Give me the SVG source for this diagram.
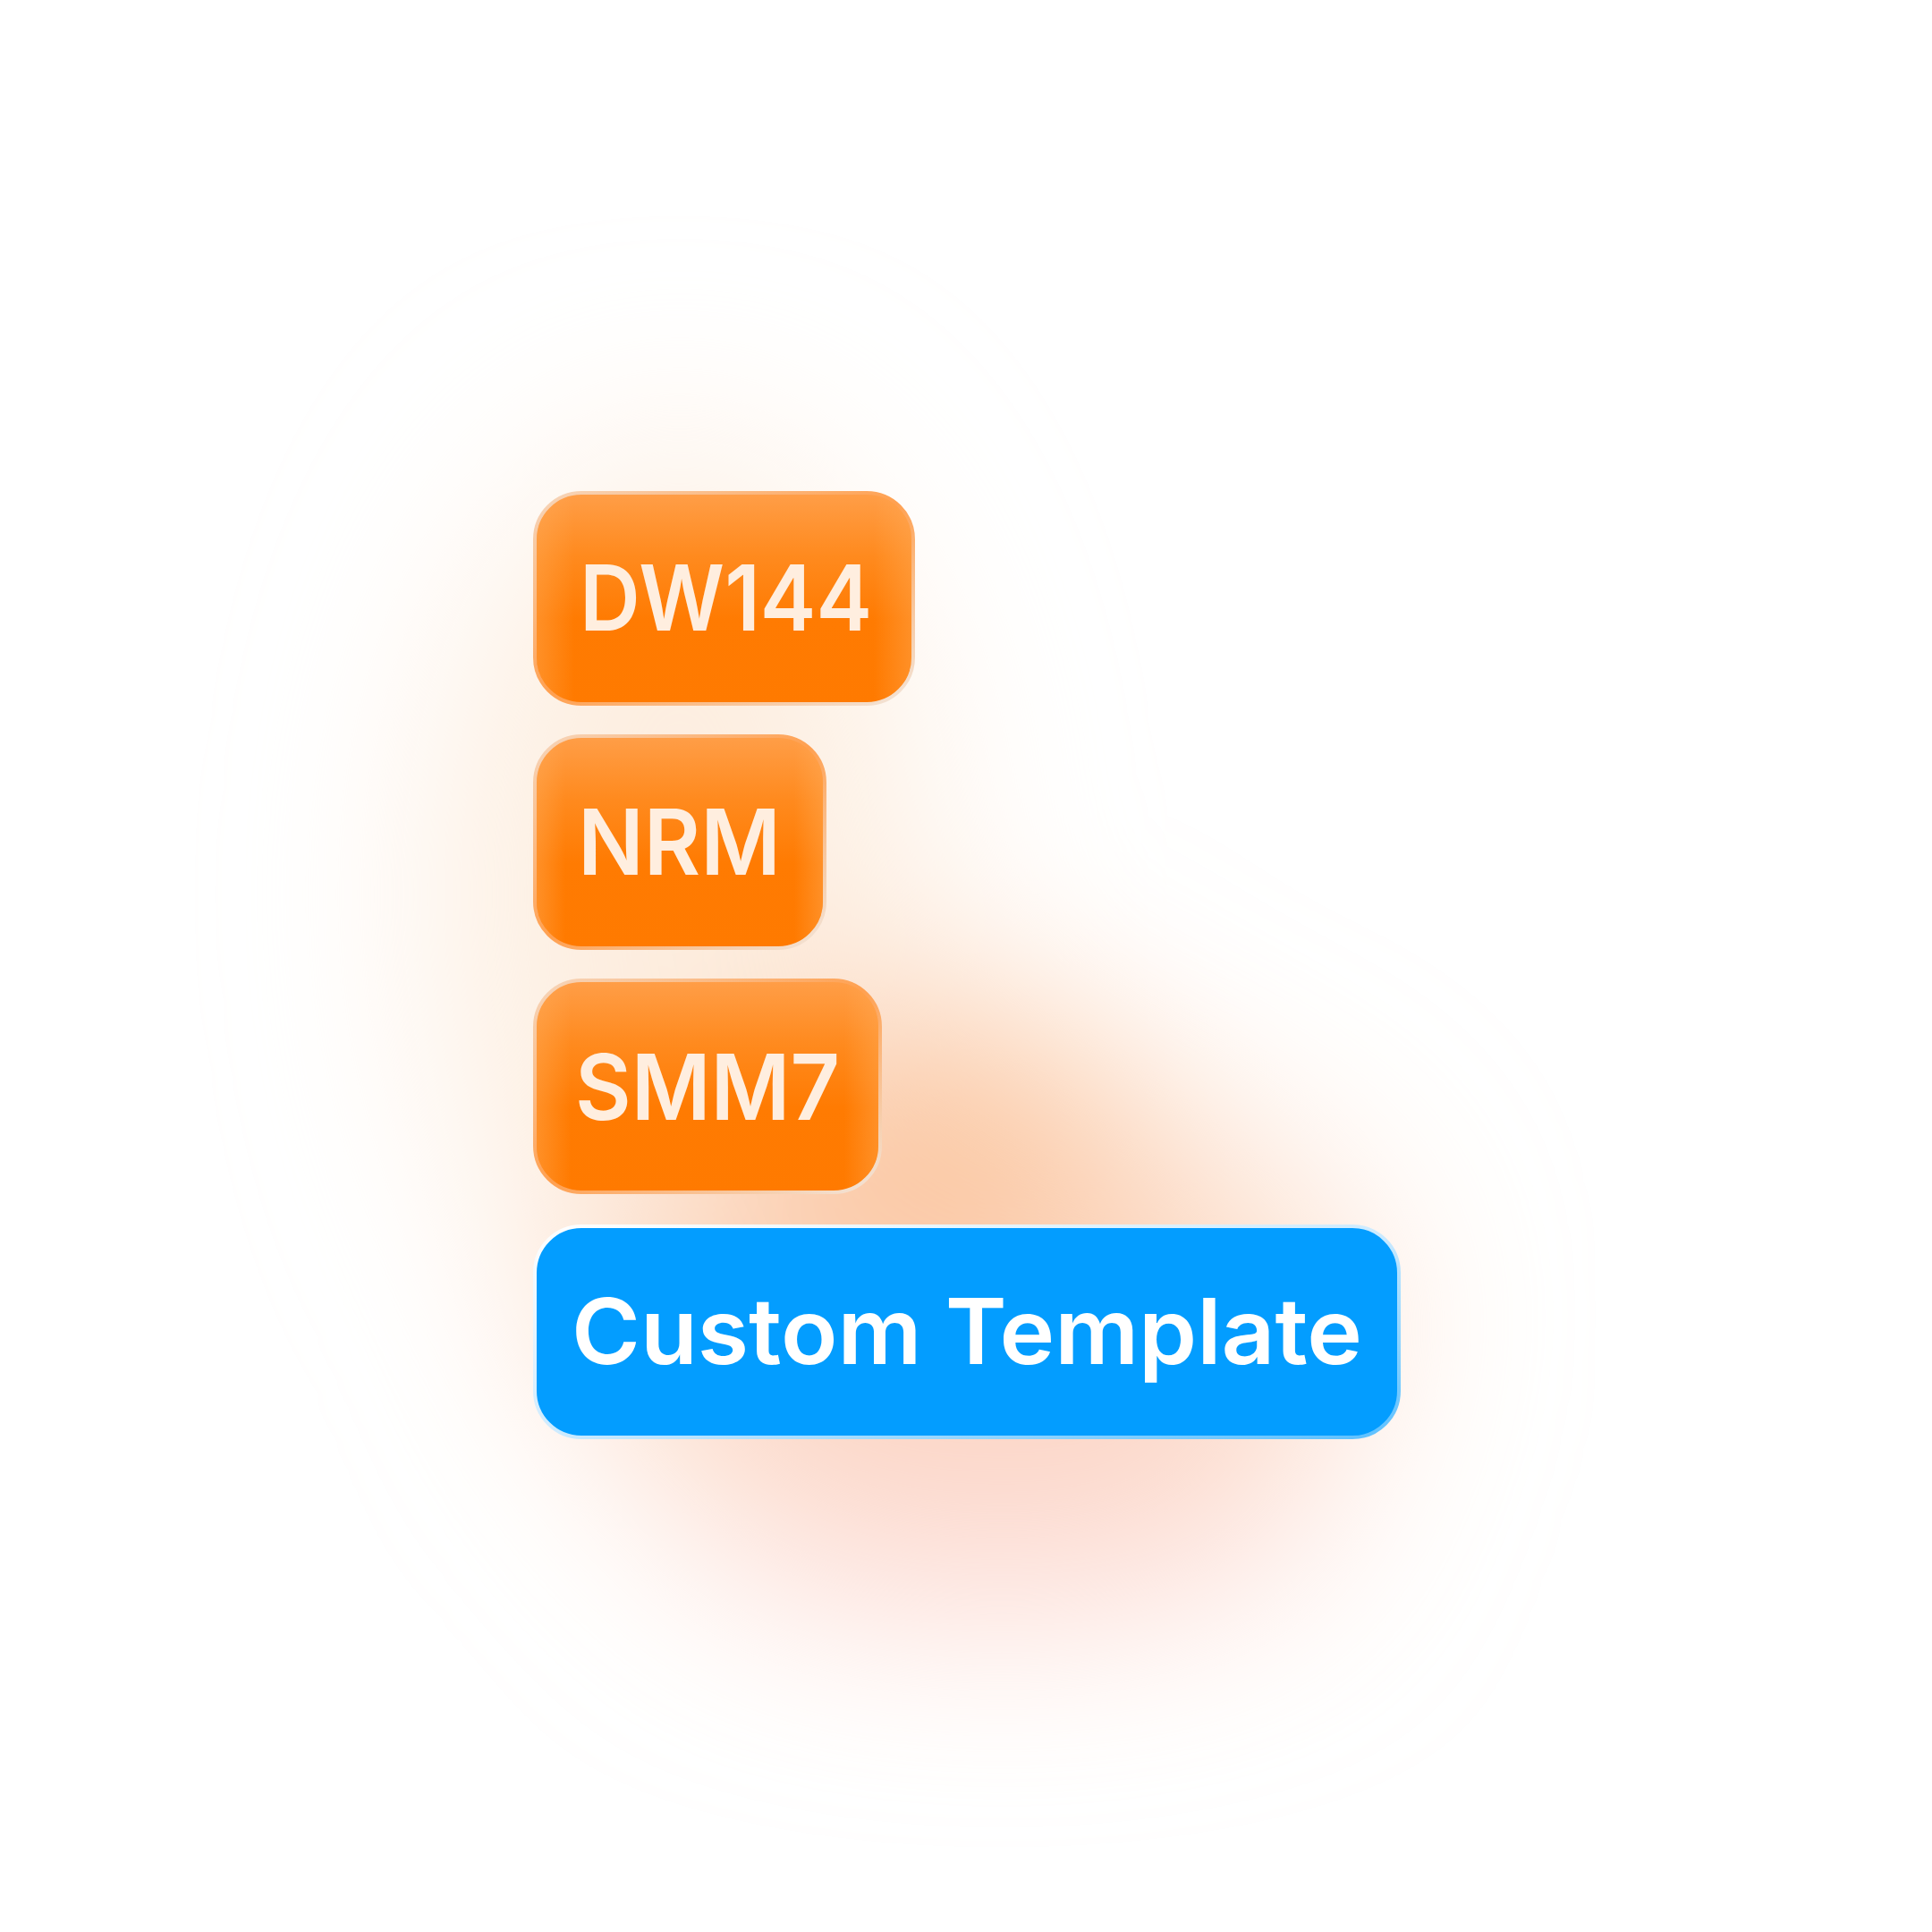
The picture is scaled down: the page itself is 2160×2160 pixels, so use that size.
<svg xmlns="http://www.w3.org/2000/svg" width="2160" height="2160" viewBox="0 0 2160 2160">
  <style>
    .lbl { font-family: Inter, "Liberation Sans", Arial, sans-serif; font-size: 102px; font-weight: 600; }
    .olbl { fill: #FFEEDF; }
    .blbl { fill: #FFFFFF; }
    .obox { fill: url(#orangeFill); stroke: url(#orangeStroke); stroke-width: 4; }
    .bbox { fill: #039DFF; stroke: url(#blueStroke); stroke-width: 4; }
    .edge { fill: url(#edgeGlow); }
  </style>
  <defs>
    <filter id="blur" filterUnits="userSpaceOnUse" x="0" y="0" width="2160" height="2160">
      <feGaussianBlur stdDeviation="115"/>
    </filter>
    <linearGradient id="orangeFill" x1="0" y1="0" x2="0" y2="1">
      <stop offset="0" stop-color="#FF9E48"/>
      <stop offset="0.3" stop-color="#FF8A1E"/>
      <stop offset="0.6" stop-color="#FF7B02"/>
      <stop offset="1" stop-color="#FF7A00"/>
    </linearGradient>
    <linearGradient id="edgeGlow" x1="0" y1="0" x2="1" y2="0">
      <stop offset="0" stop-color="#FFB060" stop-opacity="0.4"/>
      <stop offset="0.1" stop-color="#FFB060" stop-opacity="0"/>
      <stop offset="0.9" stop-color="#FFB060" stop-opacity="0"/>
      <stop offset="1" stop-color="#FFB060" stop-opacity="0.4"/>
    </linearGradient>
    <linearGradient id="orangeStroke" x1="0" y1="0" x2="1" y2="1">
      <stop offset="0" stop-color="#F6D6BC"/>
      <stop offset="0.5" stop-color="#FFA050"/>
      <stop offset="1" stop-color="#F2E6DC"/>
    </linearGradient>
    <linearGradient id="blueStroke" x1="0" y1="0" x2="1" y2="1">
      <stop offset="0" stop-color="#FFFFFF"/>
      <stop offset="0.5" stop-color="#CDEBFF"/>
      <stop offset="1" stop-color="#5CC0FF"/>
    </linearGradient>
  </defs>

  <rect width="2160" height="2160" fill="#FFFFFF"/>

  <g id="background-glow" filter="url(#blur)">
    <ellipse cx="760" cy="1000" rx="270" ry="500" fill="#FDEEE0"/>
    <ellipse cx="1080" cy="1470" rx="450" ry="250" fill="#FCDCC8"/>
    <ellipse cx="1040" cy="1300" rx="230" ry="170" fill="#FBC49C"/>
    <ellipse cx="1120" cy="1680" rx="350" ry="115" fill="#FCD6CC"/>
  </g>

  <g id="connectors"></g>

  <g id="node-dw144">
    <rect class="obox" x="598" y="551" width="423" height="236" rx="52"/>
    <rect class="edge" x="600" y="553" width="419" height="232" rx="50"/>
    <text class="lbl olbl" x="648" y="705" textLength="327" lengthAdjust="spacingAndGlyphs">DW144</text>
  </g>

  <g id="node-nrm">
    <rect class="obox" x="598" y="823" width="324" height="237" rx="52"/>
    <rect class="edge" x="600" y="825" width="320" height="233" rx="50"/>
    <text class="lbl olbl" x="646" y="978" textLength="227" lengthAdjust="spacingAndGlyphs">NRM</text>
  </g>

  <g id="node-smm7">
    <rect class="obox" x="598" y="1096" width="386" height="237" rx="52"/>
    <rect class="edge" x="600" y="1098" width="382" height="233" rx="50"/>
    <text class="lbl olbl" x="643" y="1252" textLength="296" lengthAdjust="spacingAndGlyphs">SMM7</text>
  </g>

  <g id="node-custom-template">
    <rect class="bbox" x="598" y="1371" width="966" height="236" rx="52"/>
    <text class="lbl blbl" x="639" y="1525" textLength="884" lengthAdjust="spacingAndGlyphs">Custom Template</text>
  </g>
</svg>
